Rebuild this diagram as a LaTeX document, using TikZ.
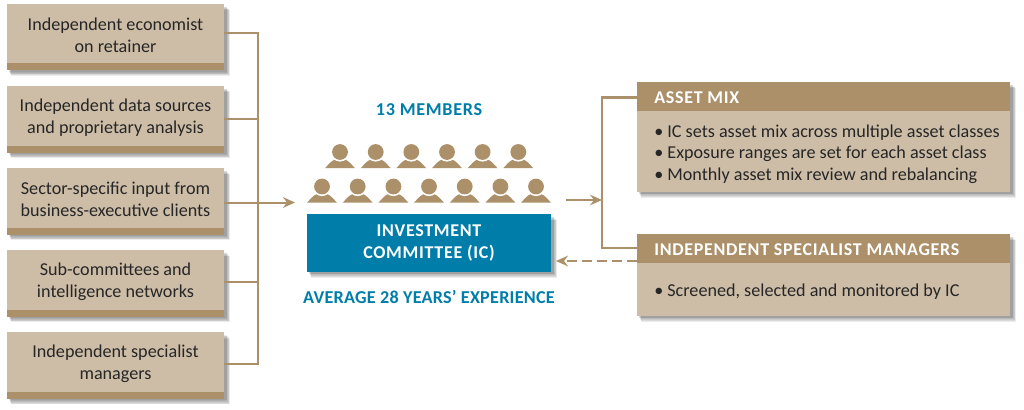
\documentclass[tikz,border=0pt]{standalone}
\usepackage{fontspec}
\setmainfont{Carlito}
\usetikzlibrary{arrows.meta,calc}
\definecolor{sand}{HTML}{CDBDA7}
\definecolor{tan}{HTML}{AB9069}
\definecolor{teal}{HTML}{007DA8}
\definecolor{ink}{HTML}{262626}
\tikzset{
  link/.style={draw=tan,line width=1.5pt},
  tip/.style={-{Stealth[length=9pt,width=8pt,inset=3pt]}},
  boxtxt/.style={align=center,font=\fontsize{13.6}{16.4}\selectfont,text=ink},
  bullets/.style={align=left,anchor=west,font=\fontsize{13.6}{16.3}\selectfont,text=ink,inner sep=0pt},
  headtxt/.style={anchor=west,font=\bfseries\fontsize{13.5}{16}\selectfont\addfontfeature{LetterSpace=3.9},text=white,inner sep=0pt},
  tealtxt/.style={font=\bfseries\fontsize{13.6}{16}\selectfont\addfontfeature{LetterSpace=1.4},text=teal,inner sep=0pt},
  person/.pic={
    \path[fill=tan] (-15,8.2) .. controls (-11,4) and (-9,1) .. (-5,-0.5) -- (5,-0.5)
       .. controls (9,1) and (11,4) .. (15,8.2) -- cycle;
    \fill[white] (0,-8) circle (9.6);
    \fill[tan] (0,-8) circle (7.9);
  }
}
% softly blurred shadow: stacked translucent rectangles
\newcommand{\softshadow}[4]{%
  \foreach \g in {6,5,4,3,2,1}{
    \fill[black,opacity=0.075] ({#1+1+\g*0.5},{#2+2+\g*0.7}) rectangle ({#3+1.8+\g*0.7},{#4+0.8+\g*0.8});
  }%
}
\newcommand{\leftbox}[4]{% name, top, text, connector y
  \softshadow{7}{#2}{224}{#2+66.5}
  \fill[sand] (7,#2) rectangle (224,#2+66.5);
  \fill[tan] (7,#2+59.5) rectangle (224,#2+66.5);
  \node[boxtxt] (#1) at (115.5,#2+31.5) {#3};
  \coordinate (#1e) at (224,#4);
}
\begin{document}
\begin{tikzpicture}[x=0.75pt,y=-0.75pt]
\useasboundingbox (0,0) rectangle (1024,410);
\leftbox{a}{4}{Independent economist\\on retainer}{33.3}
\leftbox{b}{86}{Independent data sources\\and proprietary analysis}{119}
\leftbox{c}{168}{Sector-specific input from\\business-executive clients}{202.5}
\leftbox{d}{250}{Sub-committees and\\intelligence networks}{282}
\leftbox{e}{332.3}{Independent specialist\\managers}{363.7}
\coordinate (bus) at (258,202.5);
\coordinate (busT) at (258,33.3);
\coordinate (busB) at (258,363.7);
\coordinate (icin) at (295,202.5);
\draw[link] (ae) -- (busT) -- (busB) -- (ee);
\draw[link] (be) -- (be -| bus);
\draw[link] (de) -- (de -| bus);
\draw[link,tip] (ce) -- (icin);
% people
\node[tealtxt,font=\bfseries\fontsize{13.6}{16}\selectfont\addfontfeature{LetterSpace=3.9}] (members) at (429,110) {13 MEMBERS};
\foreach \i/\x in {1/340,2/375.7,3/411.3,4/447,5/482.6,6/518.3}{
  \path (\x,160) pic {person};
}
\foreach \i/\x in {1/322,2/357.7,3/393.4,4/429,5/464.7,6/500.4,7/536}{
  \path (\x,194.5) pic {person};
}
% committee
\softshadow{307}{214}{551}{272}
\node[fill=teal,minimum width=183pt,minimum height=43.5pt,inner sep=0pt,align=center,text=white,
  font=\bfseries\fontsize{13.5}{16.5}\selectfont\addfontfeature{LetterSpace=3.9}] (ic) at (429,243) {\raisebox{-3pt}{INVESTMENT}\\\raisebox{-3pt}{COMMITTEE (IC)}};
\node[tealtxt] (avg) at (429,297) {AVERAGE 28 YEARS’ EXPERIENCE};
% right boxes
\softshadow{637}{82}{1010}{192}
\fill[sand] (637,82) rectangle (1010,192);
\fill[tan] (637,82) rectangle (1010,111);
\node[headtxt] (mix) at (654,97.5) {ASSET MIX};
\node[bullets] (mixb) at (654,154) {\textbullet\ IC sets asset mix across multiple asset classes\\\textbullet\ Exposure ranges are set for each asset class\\\textbullet\ Monthly asset mix review and rebalancing};
\softshadow{637}{234}{1010}{316}
\fill[sand] (637,234) rectangle (1010,316);
\fill[tan] (637,234) rectangle (1010,263);
\node[headtxt] (ism) at (654,249.5) {INDEPENDENT SPECIALIST MANAGERS};
\node[bullets] (ismb) at (654,291.5) {\textbullet\ Screened, selected and monitored by IC};
% connectors
\coordinate (mixw) at (637,97.5);
\coordinate (ismw) at (637,247.5);
\coordinate (ismd) at (637,261);
\coordinate (brk) at (602,200);
\coordinate (mixout) at (566,200);
\coordinate (dashend) at (556,261);
\draw[link] (mixw) -- (mixw -| brk) -- (ismw -| brk) -- (ismw);
\draw[link,tip] (mixout) -- (brk);
\draw[link,tip,dashed,dash pattern=on 7.5pt off 3.75pt] (ismd) -- (dashend);
\end{tikzpicture}
\end{document}
